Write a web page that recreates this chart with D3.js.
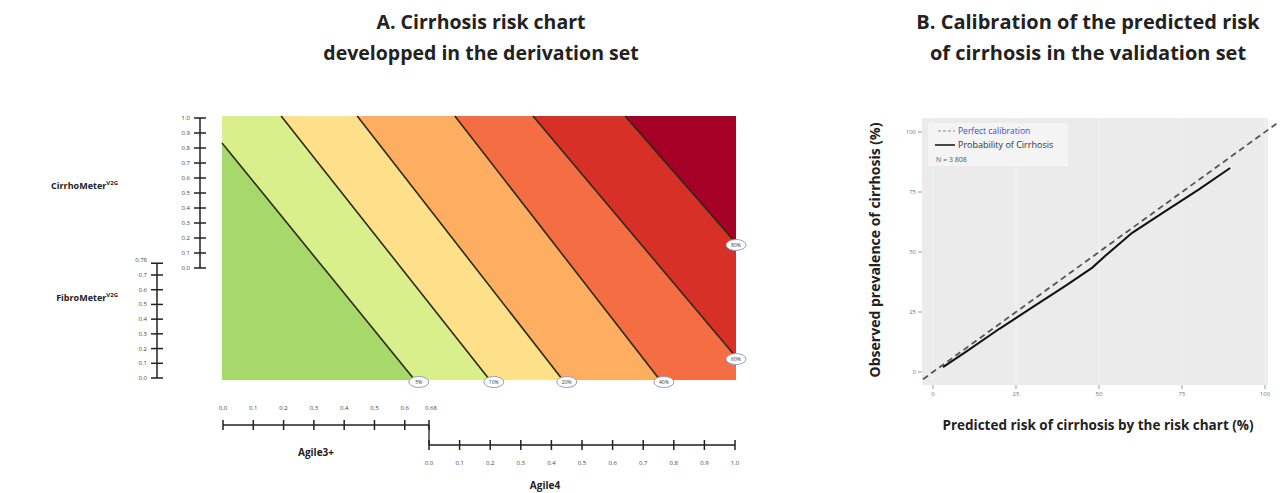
<!DOCTYPE html>
<html><head><meta charset="utf-8">
<script src="https://cdn.jsdelivr.net/npm/d3@7"></script>
<style>body{margin:0;background:#fff}svg{display:block;font-family:"Open Sans",sans-serif}</style>
</head><body><svg id="c" width="1280" height="493"></svg>
<script>
// ---------- DATA ----------
const bandColors = ["#a6d96a","#d9ef8b","#fee08b","#fdae61","#f46d43","#d73027","#a50026"];
const riskLevels = ["5%","10%","20%","40%","60%","80%"];
// contour lines in normalized chart units (x: 0..1 left->right, y: 0..1 bottom->top)
const contourFrom = [[0,0.898],[0.115,1],[0.263,1],[0.453,1],[0.605,1],[0.784,1]];
const contourTo   = [[0.375,0],[0.521,0],[0.663,0],[0.852,0],[1,0.087],[1,0.519]];
const cirrhoTicks = [0,0.1,0.2,0.3,0.4,0.5,0.6,0.7,0.8,0.9,1.0];
const fibroTicks = [0,0.1,0.2,0.3,0.4,0.5,0.6,0.7];
const fibroMax = 0.78;
const agile3Ticks = [0,0.1,0.2,0.3,0.4,0.5,0.6];
const agile3Max = 0.68;
const agile4Ticks = [0,0.1,0.2,0.3,0.4,0.5,0.6,0.7,0.8,0.9,1.0];
// calibration
const calTicks = [0,25,50,75,100];
const calPredicted = [3,10,20,30,40,48,52,60,70,80,89.5];
const calObserved  = [2,8.5,18,27,36,43.5,48.5,58,67,76,85];
const perfectLine = [-3,104];

const svg = d3.select("#c");

// ---------- PANEL A ----------
const X0=222, X1=736, Y0=116, Y1=380;
const nx = d3.scaleLinear().domain([0,1]).range([X0,X1]);
const ny = d3.scaleLinear().domain([0,1]).range([Y1,Y0]);

// clip rectangle polygon by half-plane (keep the upper-right side of a->b)
function clip(poly, a, b){
  const side = p => (b[0]-a[0])*(p[1]-a[1]) - (b[1]-a[1])*(p[0]-a[0]);
  const out=[];
  for(let i=0;i<poly.length;i++){
    const p=poly[i], q=poly[(i+1)%poly.length];
    const sp=side(p), sq=side(q);
    if(sp>=0) out.push(p);
    if((sp<0&&sq>0)||(sp>0&&sq<0)){
      const t=sp/(sp-sq);
      out.push([p[0]+t*(q[0]-p[0]), p[1]+t*(q[1]-p[1])]);
    }
  }
  return out;
}
const rect=[[0,0],[1,0],[1,1],[0,1]];
const gA = svg.append("g");
gA.append("rect").attr("x",nx(0)).attr("y",ny(1)).attr("width",nx(1)-nx(0)).attr("height",ny(0)-ny(1)).attr("fill",bandColors[0]);
contourFrom.forEach((a,i)=>{
  const poly = clip(rect, a, contourTo[i]);
  gA.append("path").attr("d", d3.line().x(d=>nx(d[0])).y(d=>ny(d[1]))(poly)+"Z").attr("fill",bandColors[i+1]);
});
contourFrom.forEach((a,i)=>{
  const b=contourTo[i];
  gA.append("line").attr("x1",nx(a[0])).attr("y1",ny(a[1])).attr("x2",nx(b[0])).attr("y2",ny(b[1]))
    .attr("stroke","#2a2a1a").attr("stroke-width",1.6);
});
// contour labels
contourTo.forEach((b,i)=>{
  const cx = nx(b[0]) + (b[1]===0?4:0), cy = ny(b[1]) + 2;
  gA.append("ellipse").attr("cx",cx).attr("cy",cy).attr("rx",10).attr("ry",5.5)
    .attr("fill","#fff").attr("stroke","#8da2c9").attr("stroke-width",1);
  gA.append("text").attr("x",cx).attr("y",cy+2).attr("text-anchor","middle")
    .attr("font-size",5).attr("fill","#333").text(riskLevels[i]);
});

// vertical axes helper
function vAxis(x, scale, ticks, fmt, maxVal, maxLabel){
  const g=svg.append("g");
  g.append("line").attr("x1",x).attr("x2",x).attr("y1",scale(maxVal)).attr("y2",scale(0)).attr("stroke","#222").attr("stroke-width",1.5);
  const all = ticks.concat(maxLabel?[maxVal]:[]);
  all.forEach(t=>{
    g.append("line").attr("x1",x-6).attr("x2",x+6).attr("y1",scale(t)).attr("y2",scale(t)).attr("stroke","#222").attr("stroke-width",1.5);
  });
  ticks.forEach(t=>{
    g.append("text").attr("x",x-10).attr("y",scale(t)+2).attr("text-anchor","end").attr("font-size",6).attr("fill","#444").text(fmt(t));
  });
  if(maxLabel) g.append("text").attr("x",x-10).attr("y",scale(maxVal)-1).attr("text-anchor","end").attr("font-size",6).attr("fill","#444").text(maxLabel);
}
const cirY = d3.scaleLinear().domain([0,1]).range([268,118]);
vAxis(200, cirY, cirrhoTicks, d3.format(".1f"), 1.0, null);
const fibY = d3.scaleLinear().domain([0,0.7]).range([378,275]);
vAxis(157, fibY, fibroTicks, d3.format(".1f"), fibroMax, String(fibroMax));

function supLabel(x,y,main){
  const t=svg.append("text").attr("x",x).attr("y",y).attr("text-anchor","end").attr("font-size",9).attr("font-weight","bold").attr("fill","#222");
  t.append("tspan").text(main);
  t.append("tspan").attr("dy",-4).attr("font-size",6).text("V2G");
}
supLabel(118,189,"CirrhoMeter");
supLabel(118,301,"FibroMeter");

// horizontal axes
const a3X = d3.scaleLinear().domain([0,agile3Max]).range([223,429]);
const a3Y = 425;
const gx3=svg.append("g");
gx3.append("line").attr("x1",a3X(0)).attr("x2",a3X(agile3Max)).attr("y1",a3Y).attr("y2",a3Y).attr("stroke","#222").attr("stroke-width",1.3);
agile3Ticks.concat([agile3Max]).forEach(t=>{
  gx3.append("line").attr("x1",a3X(t)).attr("x2",a3X(t)).attr("y1",a3Y-5).attr("y2",a3Y+5).attr("stroke","#222").attr("stroke-width",1.5);
});
agile3Ticks.forEach(t=>gx3.append("text").attr("x",a3X(t)).attr("y",a3Y-15).attr("text-anchor","middle").attr("font-size",6).attr("fill","#444").text(d3.format(".1f")(t)));
gx3.append("text").attr("x",a3X(agile3Max)+2).attr("y",a3Y-15).attr("text-anchor","middle").attr("font-size",6).attr("fill","#444").text(String(agile3Max));
gx3.append("text").attr("x",316).attr("y",456).attr("text-anchor","middle").attr("font-size",10).attr("font-weight","bold").attr("fill","#222").text("Agile3+");

const a4X = d3.scaleLinear().domain([0,1]).range([429,735]);
const a4Y = 445;
const gx4=svg.append("g");
gx4.append("line").attr("x1",a4X(0)).attr("x2",a4X(0)).attr("y1",a3Y).attr("y2",a4Y).attr("stroke","#222").attr("stroke-width",1.3);
gx4.append("line").attr("x1",a4X(0)).attr("x2",a4X(1)).attr("y1",a4Y).attr("y2",a4Y).attr("stroke","#555").attr("stroke-width",2.2);
agile4Ticks.forEach(t=>{
  gx4.append("line").attr("x1",a4X(t)).attr("x2",a4X(t)).attr("y1",a4Y-5).attr("y2",a4Y+5).attr("stroke","#222").attr("stroke-width",1.5);
  gx4.append("text").attr("x",a4X(t)).attr("y",a4Y+20).attr("text-anchor","middle").attr("font-size",6).attr("fill","#444").text(d3.format(".1f")(t));
});
gx4.append("text").attr("x",545).attr("y",489).attr("text-anchor","middle").attr("font-size",10).attr("font-weight","bold").attr("fill","#222").text("Agile4");

// titles
function title(cx, lines, fs){
  lines.forEach((s,i)=>svg.append("text").attr("x",cx).attr("y",29+i*31).attr("text-anchor","middle")
    .attr("font-size",fs).attr("font-weight","bold").attr("fill","#222").text(s));
}
title(481,["A. Cirrhosis risk chart","developped in the derivation set"],19.5);
title(1088,["B. Calibration of the predicted risk","of cirrhosis in the validation set"],20);

// ---------- PANEL B ----------
const cx = d3.scaleLinear().domain([0,100]).range([933,1265]);
const cy = d3.scaleLinear().domain([0,100]).range([372,132]);
const gB = svg.append("g");
gB.append("rect").attr("x",922).attr("y",118).attr("width",346).attr("height",267).attr("fill","#ebebeb");
calTicks.forEach(t=>{
  gB.append("line").attr("x1",cx(t)).attr("x2",cx(t)).attr("y1",118).attr("y2",385).attr("stroke","#f3f3f3").attr("stroke-width",1);
  gB.append("line").attr("x1",cx(t)).attr("x2",cx(t)).attr("y1",385).attr("y2",389).attr("stroke","#999");
  gB.append("text").attr("x",cx(t)).attr("y",396).attr("text-anchor","middle").attr("font-size",6).attr("fill","#777").text(t);
  gB.append("line").attr("x1",918).attr("x2",922).attr("y1",cy(t)).attr("y2",cy(t)).attr("stroke","#999");
  gB.append("text").attr("x",916).attr("y",cy(t)+2).attr("text-anchor","end").attr("font-size",6).attr("fill","#777").text(t);
});
// legend box
gB.append("rect").attr("x",928).attr("y",123).attr("width",140).attr("height",43).attr("fill","#f4f4f4");
gB.append("line").attr("x1",cx(perfectLine[0])).attr("y1",cy(perfectLine[0])).attr("x2",cx(perfectLine[1])).attr("y2",cy(perfectLine[1]))
  .attr("stroke","#555").attr("stroke-width",1.8).attr("stroke-dasharray","6,4");
const calData = calPredicted.map((p,i)=>[p,calObserved[i]]);
gB.append("path").datum(calData).attr("d",d3.line().x(d=>cx(d[0])).y(d=>cy(d[1])))
  .attr("fill","none").attr("stroke","#111").attr("stroke-width",2);
// legend
gB.append("line").attr("x1",938).attr("x2",955).attr("y1",131).attr("y2",131).attr("stroke","#888").attr("stroke-width",1).attr("stroke-dasharray","3,2");
gB.append("text").attr("x",958).attr("y",134).attr("font-size",8.5).attr("fill","#4848c8").text("Perfect calibration");
gB.append("line").attr("x1",935).attr("x2",955).attr("y1",145).attr("y2",145).attr("stroke","#111").attr("stroke-width",1.5);
gB.append("text").attr("x",958).attr("y",148).attr("font-size",9).attr("fill","#333").text("Probability of Cirrhosis");
gB.append("text").attr("x",936).attr("y",162).attr("font-size",7).attr("fill","#555").text("N = 3 808");

svg.append("text").attr("transform","translate(880,250) rotate(-90)").attr("text-anchor","middle")
  .attr("font-size",14).attr("font-weight","bold").attr("fill","#222").text("Observed prevalence of cirrhosis (%)");
svg.append("text").attr("x",1098).attr("y",430).attr("text-anchor","middle")
  .attr("font-size",13.5).attr("font-weight","bold").attr("fill","#222").text("Predicted risk of cirrhosis by the risk chart (%)");
</script></body></html>
